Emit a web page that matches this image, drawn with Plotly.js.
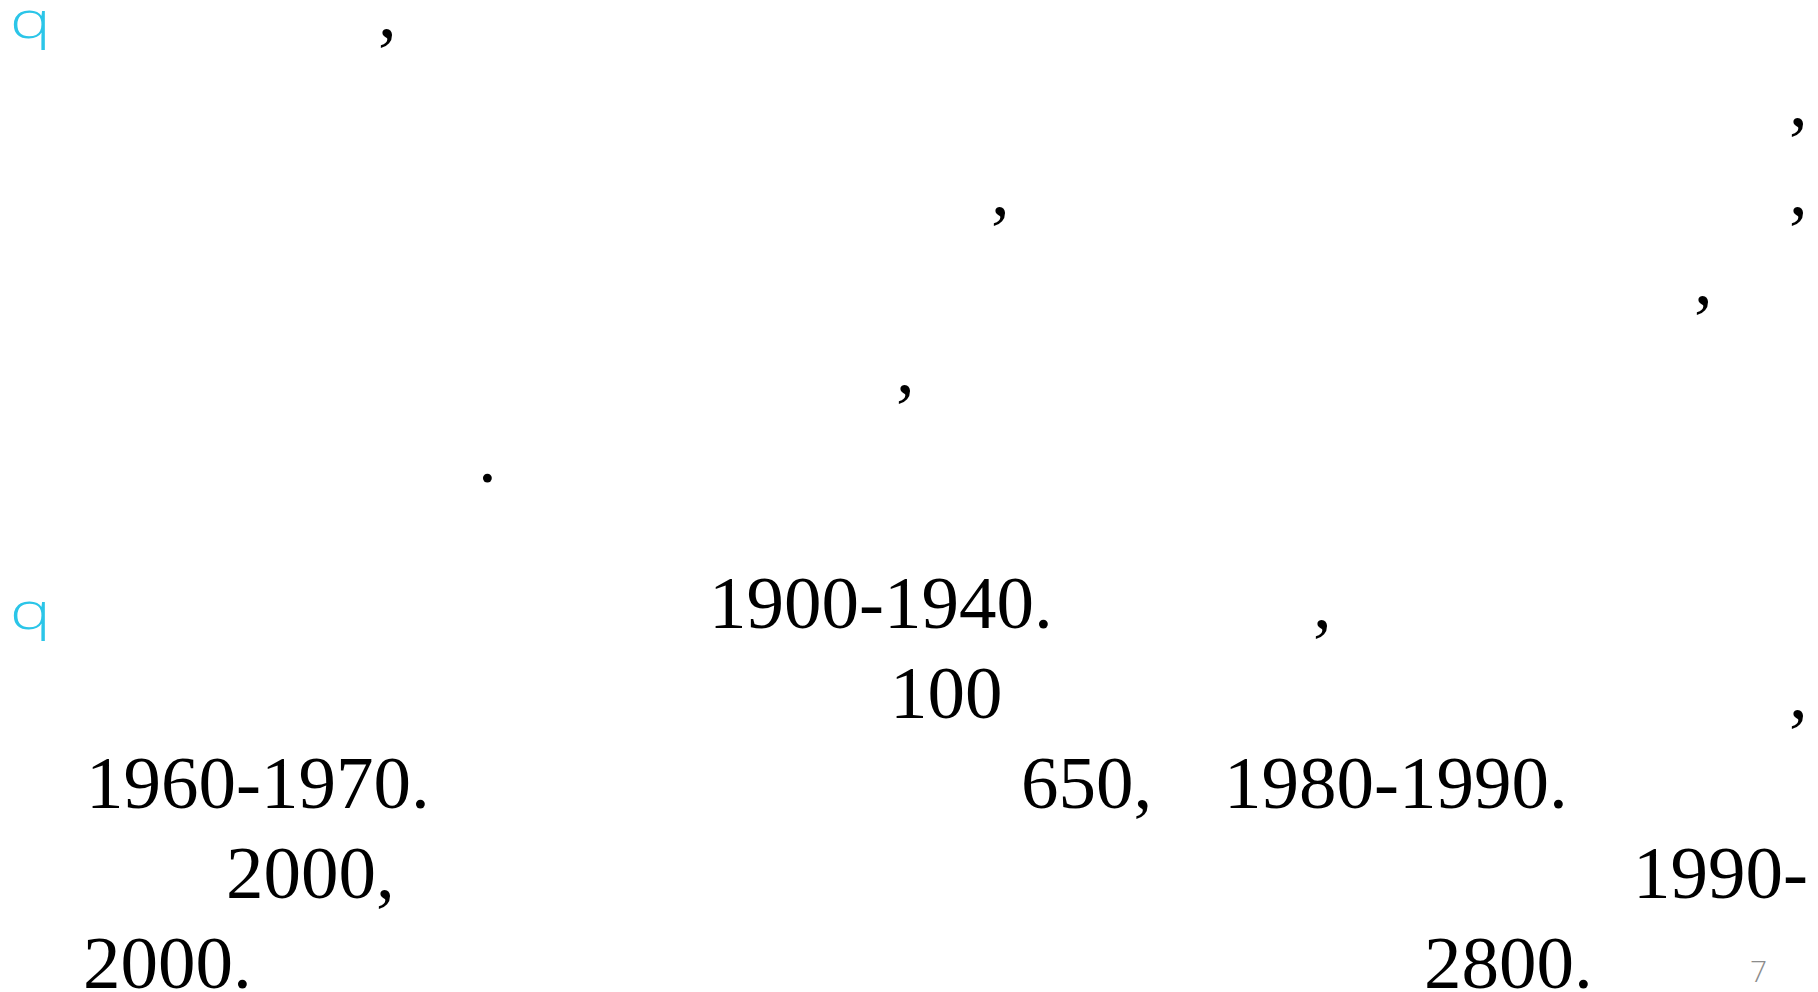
<!DOCTYPE html>
<html>
<head>
<meta charset="utf-8">
<script src="https://cdn.plot.ly/plotly-3.0.1.min.js"></script>
<style>
  html, body { margin: 0; padding: 0; background: #ffffff; }
  #chart { width: 1818px; height: 992px; }
</style>
</head>
<body>
<div id="chart"></div>
<script>
// ---- content: visible text fragments of the slide ----
const bulletMarks = ["q", "q"];
const paragraph1Fragments = [",", ",", ",", ",", ",", ",", "."];
const paragraph1LineIndex = [0, 1, 2, 2, 3, 4, 5];
const paragraph2Fragments = ["1900-1940.", ",", "100", ",", "1960-1970.", "650,", "1980-1990.", "2000,", "1990-", "2000.", "2800."];
const paragraph2LineIndex = [0, 0, 1, 1, 2, 2, 2, 3, 3, 4, 4];
const pageNumber = ["7"];

// ---- layout (positions, sizes, styles) ----
const W = 1818, H = 992;
const bodySize = 75;
const bulletSize = 51;
const bulletStretchWidth = 41;
const pageSize = 30;
const p1FirstBaseline = 37, p1Spacing = 89;
const p2FirstBaseline = 628, p2Spacing = 90;
const paragraph1X = [378, 1789, 991, 1789, 1694, 896, 478];
const paragraph2X = [709, 1313, 890, 1789, 86, 1021, 1224, 226, 1633, 83, 1424];
const bulletX = [10, 10];
const bulletBaselines = [38, 629];
const pageX = [1750], pageBaseline = [982];

// text drawn with textposition 'middle right' sits with its baseline at y + 0.25*fontSize
const toY = (baseline, size) => baseline - 0.25 * size;

const p1Y = paragraph1LineIndex.map(i => toY(p1FirstBaseline + i * p1Spacing, bodySize));
const p2Y = paragraph2LineIndex.map(i => toY(p2FirstBaseline + i * p2Spacing, bodySize));

const textTrace = (x, y, text, font) => ({
  type: 'scatter', mode: 'text', x: x, y: y, text: text,
  textposition: 'middle right', textfont: font,
  hoverinfo: 'skip', cliponaxis: false, showlegend: false
});

const serif = { family: '"Liberation Serif", "Times New Roman", serif', size: bodySize, color: '#000000' };

const traces = [
  textTrace(paragraph1X, p1Y, paragraph1Fragments, serif),
  textTrace(paragraph2X, p2Y, paragraph2Fragments, serif),
  textTrace(bulletX, bulletBaselines.map(b => toY(b, bulletSize)), bulletMarks,
    { family: '"Open Sans", "DejaVu Sans", sans-serif', size: bulletSize, color: '#2BC5E8', weight: 300 }),
  textTrace(pageX, pageBaseline.map(b => toY(b, pageSize)), pageNumber,
    { family: '"Open Sans", "Liberation Sans", sans-serif', size: pageSize, color: '#8C8C8C', weight: 300 })
];

const layout = {
  width: W, height: H,
  margin: { l: 0, r: 0, t: 0, b: 0, pad: 0 },
  paper_bgcolor: '#ffffff', plot_bgcolor: '#ffffff',
  xaxis: { range: [0, W], visible: false, fixedrange: true },
  yaxis: { range: [H, 0], visible: false, fixedrange: true },
  showlegend: false
};

Plotly.newPlot('chart', traces, layout, { displayModeBar: false, staticPlot: true }).then(gd => {
  // the slide's bullet glyph is a wide, round "q": widen the drawn glyphs
  const bulletTrace = gd.querySelectorAll('.scatterlayer .trace')[2];
  if (bulletTrace) {
    bulletTrace.querySelectorAll('text').forEach(t => {
      t.setAttribute('textLength', bulletStretchWidth);
      t.setAttribute('lengthAdjust', 'spacingAndGlyphs');
    });
  }
});
</script>
</body>
</html>
